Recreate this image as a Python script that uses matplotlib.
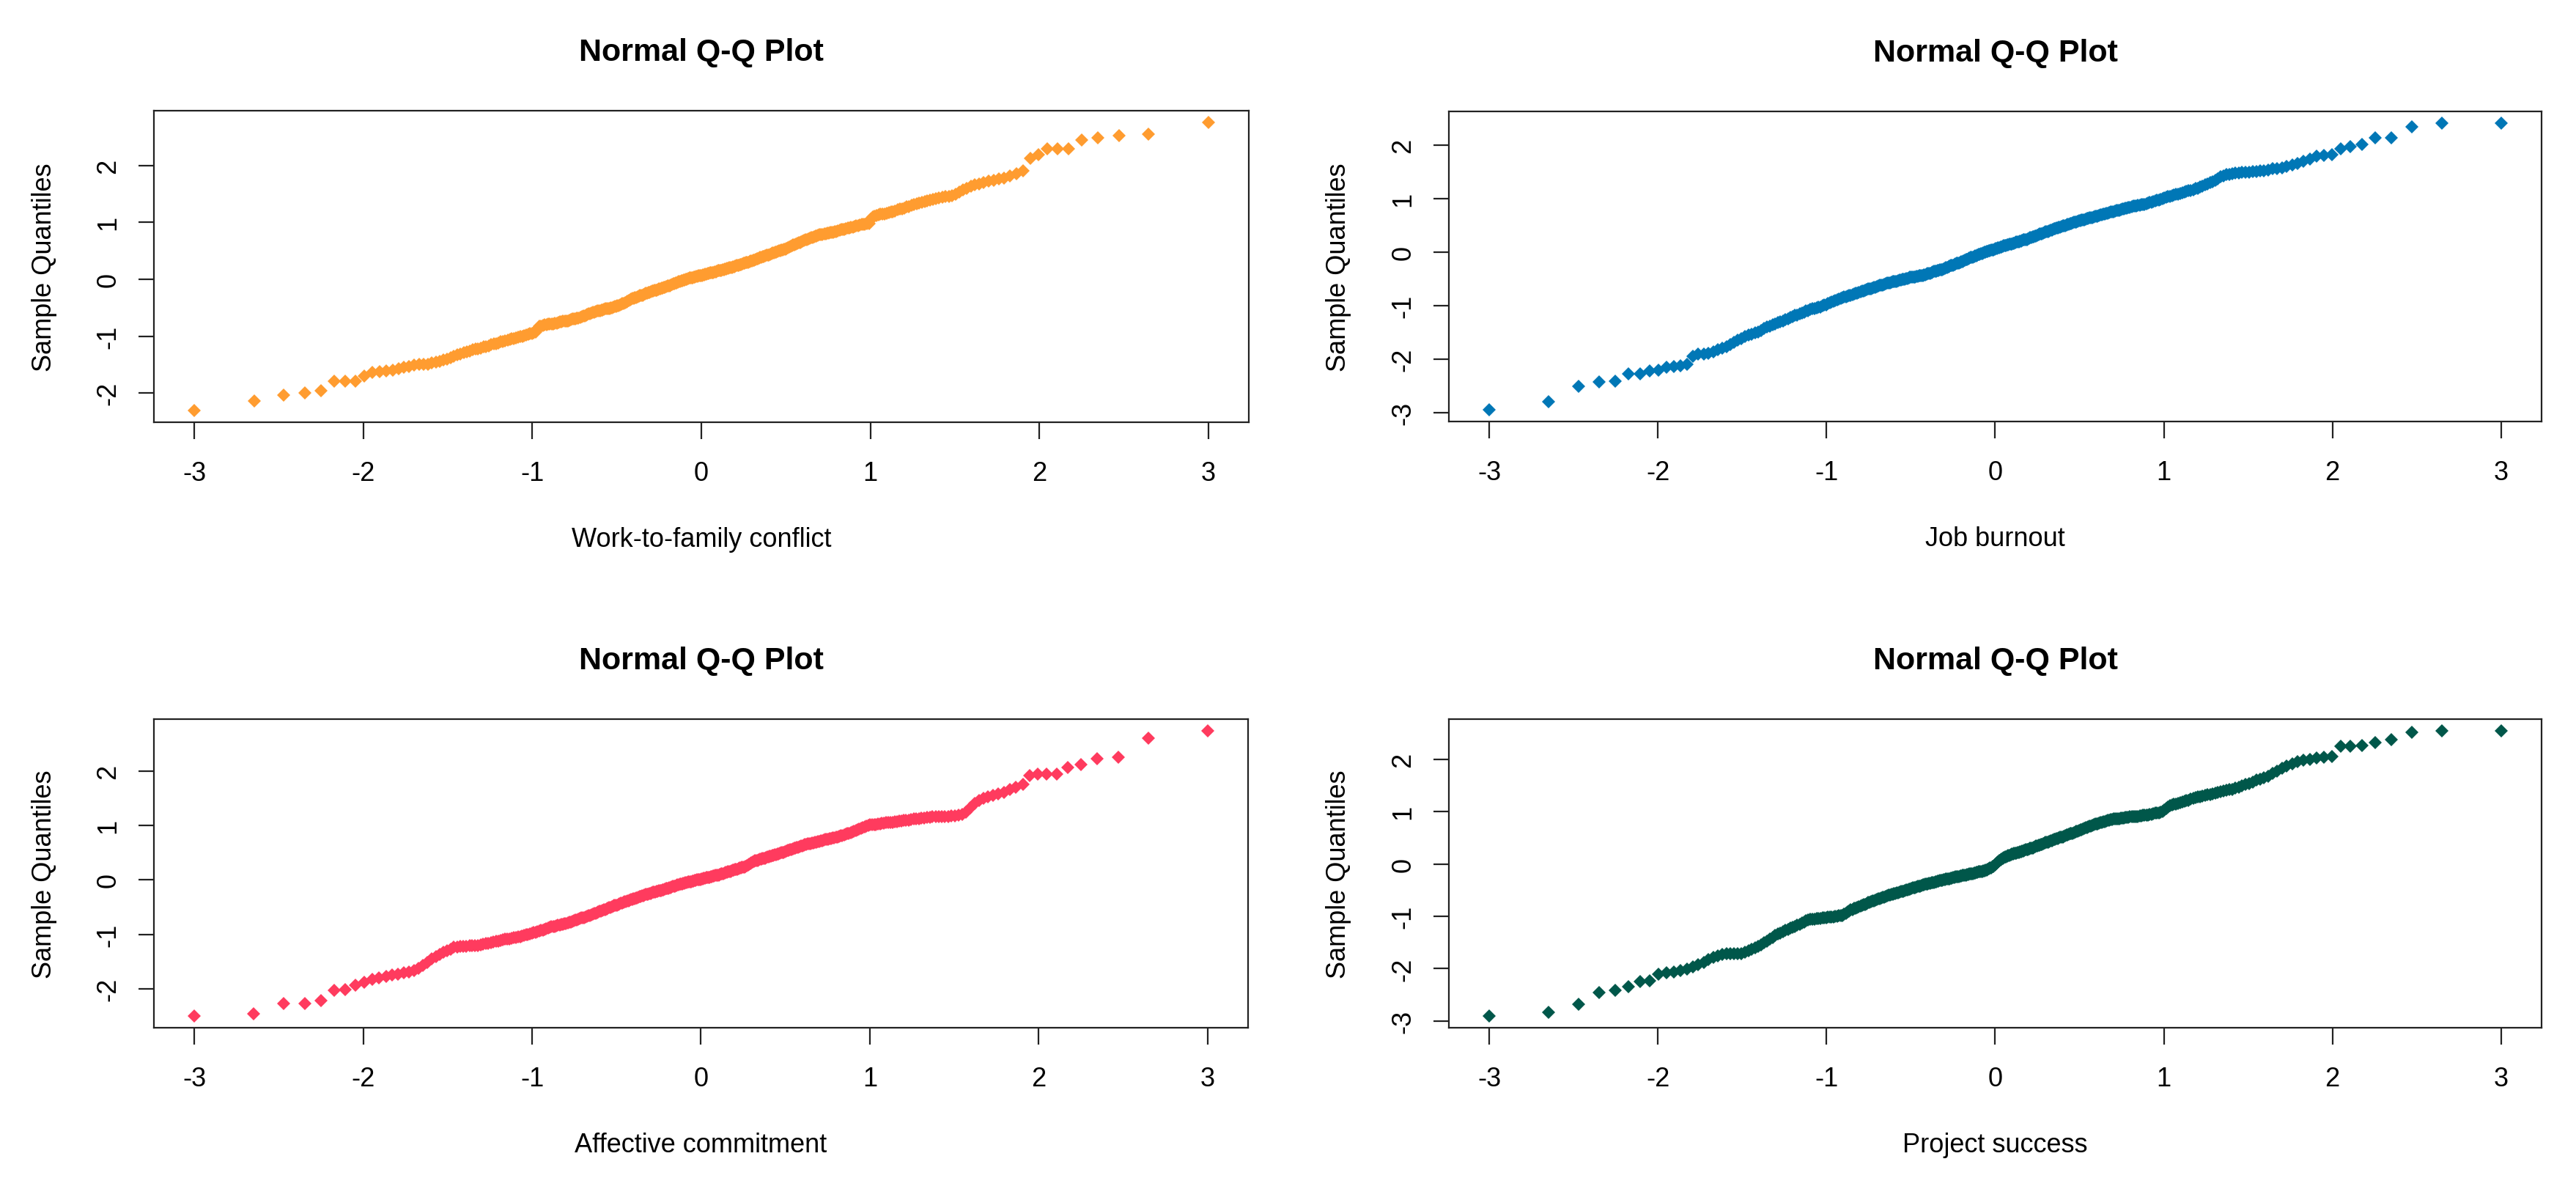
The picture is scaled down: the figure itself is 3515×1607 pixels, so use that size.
import numpy as np
import matplotlib.pyplot as plt
from matplotlib.ticker import MultipleLocator
from statistics import NormalDist

plt.rcParams['font.family'] = ['Liberation Sans', 'DejaVu Sans']
plt.rcParams['axes.unicode_minus'] = False

# sorted sample quantiles (n = 370 each)
work_family = [
    -2.31, -2.14, -2.03, -2.00, -1.96, -1.79, -1.79, -1.79,
    -1.70, -1.64, -1.62, -1.61, -1.60, -1.57, -1.55, -1.53,
    -1.51, -1.50, -1.49, -1.49, -1.47, -1.46, -1.44, -1.42, -1.41,
    -1.38, -1.35, -1.33, -1.31, -1.29, -1.27, -1.26, -1.24, -1.23, -1.22, -1.21,
    -1.19, -1.18, -1.17, -1.15, -1.14, -1.13, -1.12,
    -1.10, -1.09, -1.08, -1.07, -1.06, -1.05, -1.04,
    -1.03, -1.02, -1.01, -1.00, -0.99, -0.98, -0.97, -0.96, -0.95,
    -0.94, -0.93, -0.86, -0.83, -0.82, -0.81, -0.80, -0.80, -0.79,
    -0.79, -0.78, -0.78, -0.77, -0.77, -0.76, -0.75, -0.75, -0.74, -0.74,
    -0.73, -0.73, -0.72, -0.71, -0.70, -0.70, -0.69, -0.68, -0.68, -0.67, -0.66, -0.65,
    -0.64, -0.63, -0.62, -0.61, -0.60, -0.59, -0.58, -0.58, -0.57, -0.56, -0.56,
    -0.55, -0.54, -0.54, -0.53, -0.52, -0.52, -0.51, -0.51, -0.50, -0.50, -0.49, -0.48, -0.48,
    -0.47, -0.46, -0.45, -0.44, -0.43, -0.42, -0.41, -0.40, -0.39, -0.38, -0.36, -0.35, -0.34,
    -0.33, -0.32, -0.32, -0.31, -0.30, -0.29, -0.28, -0.28, -0.27, -0.26, -0.25, -0.24, -0.23, -0.23,
    -0.22, -0.21, -0.21, -0.20, -0.19, -0.19, -0.18, -0.17, -0.17, -0.16, -0.15, -0.14, -0.14, -0.13, -0.12,
    -0.12, -0.11, -0.10, -0.09, -0.08, -0.08, -0.07, -0.06, -0.05, -0.04, -0.04, -0.03, -0.02, -0.01,
    -0.01, 0.00, 0.00, 0.01, 0.02, 0.02, 0.03, 0.03, 0.04, 0.04, 0.05, 0.05, 0.06, 0.06, 0.07,
    0.07, 0.08, 0.08, 0.09, 0.09, 0.10, 0.10, 0.11, 0.11, 0.12, 0.12, 0.13, 0.13, 0.14, 0.15,
    0.15, 0.16, 0.16, 0.17, 0.17, 0.18, 0.18, 0.19, 0.19, 0.20, 0.20, 0.21, 0.22, 0.22,
    0.23, 0.24, 0.24, 0.25, 0.26, 0.26, 0.27, 0.28, 0.28, 0.29, 0.30, 0.30, 0.31, 0.32, 0.32,
    0.33, 0.34, 0.35, 0.36, 0.36, 0.37, 0.38, 0.39, 0.40, 0.40, 0.41, 0.42, 0.43, 0.43,
    0.44, 0.45, 0.46, 0.46, 0.47, 0.48, 0.49, 0.50, 0.50, 0.51, 0.52, 0.53, 0.53,
    0.54, 0.55, 0.56, 0.58, 0.59, 0.60, 0.61, 0.62, 0.63, 0.64, 0.65, 0.66, 0.67,
    0.68, 0.69, 0.70, 0.71, 0.72, 0.73, 0.74, 0.75, 0.76, 0.76, 0.77,
    0.78, 0.79, 0.79, 0.80, 0.80, 0.81, 0.81, 0.82, 0.82, 0.83, 0.84, 0.84,
    0.85, 0.86, 0.87, 0.87, 0.88, 0.89, 0.90, 0.90, 0.91, 0.92,
    0.93, 0.94, 0.94, 0.95, 0.96, 0.96, 0.97, 0.98, 0.98,
    1.06, 1.10, 1.11, 1.12, 1.13, 1.14, 1.15, 1.15, 1.16,
    1.17, 1.18, 1.19, 1.20, 1.22, 1.23, 1.24,
    1.25, 1.27, 1.28, 1.30, 1.31, 1.33, 1.34,
    1.35, 1.37, 1.38, 1.39, 1.41, 1.42,
    1.43, 1.44, 1.45, 1.46, 1.47,
    1.49, 1.53, 1.57, 1.60, 1.63,
    1.66, 1.68, 1.70, 1.72, 1.74, 1.76, 1.78, 1.82, 1.86, 1.90,
    2.12, 2.19, 2.29, 2.29, 2.29, 2.45, 2.49, 2.52, 2.55, 2.76,
]

job_burnout = [
    -2.95, -2.80, -2.50, -2.43, -2.41, -2.28, -2.27, -2.22,
    -2.20, -2.15, -2.13, -2.12, -2.10, -1.95, -1.91, -1.90,
    -1.89, -1.86, -1.82, -1.79, -1.76, -1.72, -1.68, -1.64, -1.61,
    -1.58, -1.55, -1.53, -1.51, -1.49, -1.46, -1.43, -1.40, -1.38, -1.36, -1.34,
    -1.32, -1.30, -1.28, -1.26, -1.24, -1.22, -1.20,
    -1.18, -1.17, -1.15, -1.13, -1.12, -1.10, -1.09,
    -1.07, -1.06, -1.05, -1.04, -1.03, -1.02, -1.00, -0.99, -0.98,
    -0.96, -0.95, -0.93, -0.92, -0.90, -0.89, -0.87, -0.86, -0.85,
    -0.84, -0.83, -0.82, -0.81, -0.80, -0.79, -0.78, -0.77, -0.76, -0.75,
    -0.74, -0.73, -0.72, -0.71, -0.70, -0.69, -0.68, -0.68, -0.67, -0.66, -0.65, -0.64,
    -0.63, -0.62, -0.62, -0.61, -0.60, -0.59, -0.58, -0.58, -0.57, -0.56, -0.55,
    -0.55, -0.54, -0.54, -0.53, -0.52, -0.52, -0.51, -0.51, -0.50, -0.49, -0.49, -0.48, -0.47,
    -0.47, -0.47, -0.46, -0.46, -0.45, -0.45, -0.44, -0.44, -0.43, -0.43, -0.42, -0.42, -0.41,
    -0.40, -0.39, -0.39, -0.38, -0.37, -0.36, -0.36, -0.35, -0.34, -0.34, -0.33, -0.32, -0.32, -0.31,
    -0.30, -0.29, -0.28, -0.27, -0.26, -0.25, -0.25, -0.24, -0.23, -0.22, -0.21, -0.21, -0.20, -0.19, -0.18,
    -0.17, -0.16, -0.15, -0.14, -0.13, -0.12, -0.11, -0.10, -0.10, -0.09, -0.08, -0.07, -0.06, -0.05,
    -0.04, -0.04, -0.03, -0.02, -0.01, 0.00, 0.00, 0.01, 0.02, 0.03, 0.03, 0.04, 0.05, 0.05, 0.06,
    0.07, 0.07, 0.08, 0.09, 0.10, 0.10, 0.11, 0.12, 0.12, 0.13, 0.14, 0.14, 0.15, 0.15, 0.16,
    0.17, 0.17, 0.18, 0.19, 0.19, 0.20, 0.21, 0.21, 0.22, 0.23, 0.23, 0.24, 0.24, 0.25,
    0.26, 0.27, 0.28, 0.29, 0.29, 0.30, 0.31, 0.32, 0.33, 0.34, 0.34, 0.35, 0.36, 0.37, 0.38,
    0.39, 0.39, 0.40, 0.41, 0.42, 0.43, 0.44, 0.44, 0.45, 0.46, 0.47, 0.47, 0.48, 0.49,
    0.50, 0.50, 0.51, 0.52, 0.53, 0.54, 0.54, 0.55, 0.56, 0.57, 0.57, 0.58, 0.59,
    0.59, 0.60, 0.61, 0.61, 0.62, 0.63, 0.63, 0.64, 0.65, 0.65, 0.66, 0.67, 0.67,
    0.68, 0.69, 0.70, 0.70, 0.71, 0.72, 0.73, 0.73, 0.74, 0.75, 0.75,
    0.76, 0.77, 0.78, 0.78, 0.79, 0.80, 0.81, 0.81, 0.82, 0.83, 0.84, 0.84,
    0.85, 0.86, 0.86, 0.87, 0.88, 0.88, 0.89, 0.90, 0.90, 0.91,
    0.92, 0.93, 0.94, 0.95, 0.96, 0.97, 0.98, 0.99, 1.01,
    1.02, 1.03, 1.04, 1.05, 1.06, 1.07, 1.08, 1.09, 1.10,
    1.11, 1.12, 1.14, 1.15, 1.16, 1.17, 1.19,
    1.20, 1.22, 1.24, 1.26, 1.28, 1.30, 1.32,
    1.35, 1.38, 1.41, 1.43, 1.45, 1.46,
    1.47, 1.48, 1.48, 1.49, 1.49,
    1.50, 1.51, 1.51, 1.52, 1.52,
    1.54, 1.56, 1.57, 1.58, 1.60, 1.63, 1.66, 1.70, 1.75,
    1.80, 1.81, 1.83,
    1.93, 1.98, 2.02, 2.14, 2.14, 2.35, 2.42, 2.42,
]

affective = [
    -2.505, -2.46, -2.275, -2.275, -2.22, -2.03, -2.02, -1.93,
    -1.88, -1.83, -1.80, -1.77, -1.75, -1.73, -1.71, -1.69,
    -1.67, -1.63, -1.57, -1.51, -1.45, -1.41, -1.37, -1.33, -1.30,
    -1.27, -1.24, -1.23, -1.22, -1.22, -1.22, -1.21, -1.21, -1.20, -1.20, -1.19,
    -1.18, -1.17, -1.16, -1.15, -1.14, -1.13, -1.12,
    -1.11, -1.10, -1.09, -1.08, -1.08, -1.07, -1.06,
    -1.06, -1.05, -1.04, -1.03, -1.02, -1.01, -1.00, -0.99, -0.98,
    -0.97, -0.96, -0.95, -0.94, -0.93, -0.92, -0.91, -0.90, -0.88,
    -0.87, -0.86, -0.86, -0.85, -0.84, -0.83, -0.83, -0.82, -0.81, -0.80,
    -0.80, -0.79, -0.78, -0.77, -0.76, -0.75, -0.74, -0.73, -0.72, -0.71, -0.70, -0.69,
    -0.69, -0.68, -0.67, -0.66, -0.65, -0.64, -0.63, -0.62, -0.61, -0.60, -0.59,
    -0.58, -0.57, -0.56, -0.55, -0.54, -0.53, -0.52, -0.51, -0.50, -0.49, -0.48, -0.47, -0.46,
    -0.46, -0.45, -0.44, -0.43, -0.42, -0.41, -0.40, -0.40, -0.39, -0.38, -0.37, -0.36, -0.36,
    -0.35, -0.34, -0.33, -0.33, -0.32, -0.31, -0.30, -0.29, -0.29, -0.28, -0.27, -0.26, -0.26, -0.25,
    -0.25, -0.24, -0.23, -0.23, -0.22, -0.21, -0.21, -0.20, -0.19, -0.19, -0.18, -0.18, -0.17, -0.16, -0.16,
    -0.15, -0.14, -0.14, -0.13, -0.12, -0.11, -0.11, -0.10, -0.09, -0.09, -0.08, -0.07, -0.07, -0.06,
    -0.06, -0.05, -0.05, -0.04, -0.04, -0.03, -0.03, -0.02, -0.02, -0.01, -0.01, 0.00, 0.00, 0.01, 0.01,
    0.02, 0.02, 0.03, 0.03, 0.04, 0.04, 0.05, 0.05, 0.06, 0.06, 0.07, 0.07, 0.08, 0.08, 0.09,
    0.09, 0.10, 0.11, 0.11, 0.12, 0.13, 0.14, 0.14, 0.15, 0.16, 0.16, 0.17, 0.18, 0.18,
    0.19, 0.20, 0.20, 0.21, 0.22, 0.22, 0.23, 0.24, 0.24, 0.25, 0.26, 0.27, 0.29, 0.30, 0.31,
    0.33, 0.34, 0.35, 0.36, 0.36, 0.37, 0.38, 0.38, 0.39, 0.40, 0.40, 0.41, 0.42, 0.42,
    0.43, 0.44, 0.45, 0.45, 0.46, 0.47, 0.48, 0.48, 0.49, 0.50, 0.51, 0.51, 0.52,
    0.53, 0.54, 0.55, 0.56, 0.56, 0.57, 0.58, 0.59, 0.60, 0.60, 0.61, 0.62, 0.63,
    0.64, 0.65, 0.65, 0.66, 0.66, 0.67, 0.68, 0.68, 0.69, 0.69, 0.70,
    0.71, 0.72, 0.72, 0.73, 0.74, 0.74, 0.75, 0.76, 0.76, 0.77, 0.77, 0.78,
    0.79, 0.80, 0.81, 0.82, 0.83, 0.84, 0.85, 0.86, 0.87, 0.88,
    0.90, 0.91, 0.92, 0.94, 0.95, 0.96, 0.97, 0.99, 1.00,
    1.01, 1.01, 1.02, 1.02, 1.03, 1.03, 1.04, 1.04, 1.05,
    1.05, 1.06, 1.06, 1.07, 1.07, 1.08, 1.08,
    1.09, 1.10, 1.10, 1.11, 1.12, 1.13, 1.13,
    1.14, 1.14, 1.15, 1.15, 1.16, 1.16,
    1.16, 1.17, 1.17, 1.17, 1.18,
    1.18, 1.19, 1.20, 1.25, 1.33,
    1.41, 1.46, 1.50, 1.53, 1.56, 1.58, 1.61, 1.66, 1.70, 1.76,
    1.92, 1.944, 1.944, 1.944, 2.06, 2.12, 2.23, 2.26, 2.60, 2.745,
]

project_success = [
    -2.91, -2.84, -2.68, -2.46, -2.41, -2.34, -2.24, -2.23,
    -2.11, -2.08, -2.06, -2.04, -2.01, -1.97, -1.93, -1.88,
    -1.83, -1.79, -1.75, -1.73, -1.72, -1.72, -1.72, -1.71, -1.71,
    -1.69, -1.66, -1.63, -1.60, -1.58, -1.55, -1.51, -1.47, -1.43, -1.40, -1.37,
    -1.34, -1.32, -1.29, -1.27, -1.25, -1.23, -1.21,
    -1.19, -1.17, -1.15, -1.13, -1.11, -1.09, -1.07,
    -1.06, -1.05, -1.05, -1.04, -1.04, -1.04, -1.03, -1.03, -1.03,
    -1.02, -1.02, -1.01, -1.01, -1.00, -1.00, -0.99, -0.99, -0.98,
    -0.96, -0.94, -0.92, -0.90, -0.88, -0.87, -0.85, -0.84, -0.83, -0.82,
    -0.80, -0.79, -0.78, -0.77, -0.76, -0.74, -0.73, -0.72, -0.71, -0.70, -0.69, -0.68,
    -0.67, -0.66, -0.65, -0.64, -0.63, -0.62, -0.61, -0.60, -0.59, -0.58, -0.58,
    -0.57, -0.56, -0.55, -0.55, -0.54, -0.53, -0.52, -0.52, -0.51, -0.50, -0.49, -0.48, -0.48,
    -0.47, -0.46, -0.46, -0.45, -0.44, -0.43, -0.43, -0.42, -0.41, -0.40, -0.40, -0.39, -0.38,
    -0.38, -0.37, -0.37, -0.36, -0.35, -0.35, -0.34, -0.34, -0.33, -0.33, -0.32, -0.31, -0.31, -0.30,
    -0.30, -0.29, -0.29, -0.28, -0.28, -0.27, -0.27, -0.26, -0.26, -0.25, -0.25, -0.24, -0.24, -0.23, -0.23,
    -0.22, -0.22, -0.21, -0.21, -0.20, -0.20, -0.19, -0.19, -0.18, -0.18, -0.17, -0.17, -0.16, -0.16,
    -0.15, -0.15, -0.14, -0.14, -0.13, -0.13, -0.12, -0.11, -0.10, -0.09, -0.08, -0.07, -0.05, -0.04, -0.02,
    0.00, 0.02, 0.04, 0.06, 0.08, 0.10, 0.11, 0.12, 0.13, 0.14, 0.15, 0.16, 0.17, 0.18, 0.19,
    0.19, 0.20, 0.20, 0.21, 0.22, 0.22, 0.23, 0.24, 0.25, 0.25, 0.26, 0.27, 0.28, 0.28,
    0.29, 0.30, 0.31, 0.31, 0.32, 0.33, 0.34, 0.35, 0.36, 0.36, 0.37, 0.38, 0.39, 0.40, 0.41,
    0.41, 0.42, 0.43, 0.44, 0.45, 0.46, 0.47, 0.47, 0.48, 0.49, 0.50, 0.51, 0.52, 0.52,
    0.53, 0.54, 0.55, 0.56, 0.57, 0.58, 0.58, 0.59, 0.60, 0.61, 0.62, 0.63, 0.64,
    0.65, 0.66, 0.67, 0.68, 0.69, 0.70, 0.71, 0.72, 0.73, 0.74, 0.75, 0.76, 0.77,
    0.77, 0.78, 0.79, 0.80, 0.81, 0.81, 0.82, 0.83, 0.84, 0.85, 0.85,
    0.86, 0.86, 0.87, 0.87, 0.87, 0.88, 0.88, 0.88, 0.89, 0.89, 0.89, 0.90,
    0.90, 0.90, 0.91, 0.91, 0.91, 0.92, 0.92, 0.93, 0.93, 0.94,
    0.94, 0.95, 0.95, 0.96, 0.97, 0.97, 0.98, 0.99, 1.00,
    1.03, 1.06, 1.09, 1.11, 1.13, 1.14, 1.15, 1.16, 1.17,
    1.18, 1.20, 1.21, 1.22, 1.24, 1.25, 1.27,
    1.28, 1.29, 1.30, 1.31, 1.32, 1.33, 1.34,
    1.35, 1.37, 1.38, 1.40, 1.41, 1.42,
    1.43, 1.45, 1.47, 1.49, 1.52,
    1.54, 1.57, 1.60, 1.62, 1.65,
    1.68, 1.73, 1.78, 1.83, 1.87, 1.91, 1.95, 1.98, 2.00,
    2.02, 2.04, 2.05,
    2.25, 2.25, 2.27, 2.32, 2.37, 2.51, 2.55, 2.55,
]

samples = [work_family, job_burnout, affective, project_success]
x_labels = ['Work-to-family conflict', 'Job burnout', 'Affective commitment', 'Project success']
colors = ['#FF9C30', '#0077B6', '#FF3B5E', '#00574A']


def theo_quantiles(n):
    # same plotting positions as R's ppoints()
    a = 0.375 if n <= 10 else 0.5
    nd = NormalDist()
    return np.array([nd.inv_cdf((i + 1 - a) / (n + 1 - 2 * a)) for i in range(n)])


W, H = 3516, 1608
fig = plt.figure(figsize=(W / 200, H / 200), dpi=200)

# axes boxes in pixels: left, top, right, bottom
boxes = [(210, 152, 1704, 577), (1977, 153, 3468, 576),
         (210, 982, 1703, 1403), (1977, 982, 3468, 1403)]

for box, vals, lab, col in zip(boxes, samples, x_labels, colors):
    l, t, r, b = box
    ax = fig.add_axes([l / W, 1 - b / H, (r - l) / W, (b - t) / H])
    y = np.sort(np.array(vals))
    x = theo_quantiles(len(y))
    ax.plot(x, y, linestyle='none', marker='D', ms=4.4, mew=0, color=col)
    ax.margins(0.04)
    ax.xaxis.set_major_locator(MultipleLocator(1))
    ax.yaxis.set_major_locator(MultipleLocator(1))
    ax.tick_params(axis='x', length=8.3, width=0.8, pad=10.5, labelsize=13, color='#222222')
    ax.tick_params(axis='y', length=7.5, width=0.8, pad=8.5, labelsize=13, labelrotation=90,
                   color='#222222')
    for tl in ax.get_yticklabels():
        tl.set_va('center')
    for sp in ax.spines.values():
        sp.set_linewidth(0.8)
        sp.set_color('#222222')
    ax.set_title('Normal Q-Q Plot', fontsize=15.5, fontweight='bold', pad=25)
    ax.set_xlabel(lab, fontsize=13)
    ax.xaxis.label.set_va('center')
    ax.xaxis.set_label_coords(0.5, -160 / (b - t))
    ax.set_ylabel('Sample Quantiles', fontsize=13)
    ax.yaxis.label.set_va('center')
    ax.yaxis.set_label_coords(-150 / (r - l), 0.5)

fig.savefig('out.png', dpi=200, facecolor='white')
